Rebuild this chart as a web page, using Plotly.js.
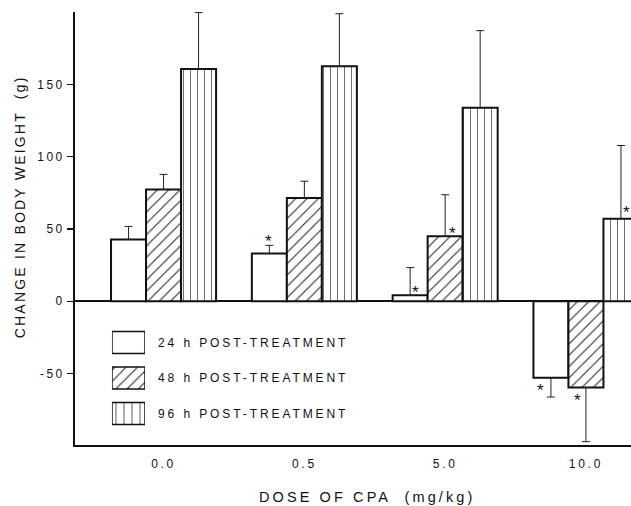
<!DOCTYPE html>
<html>
<head>
<meta charset="utf-8">
<script src="https://cdn.plot.ly/plotly-3.0.1.min.js"></script>
<style>
  html, body { margin: 0; padding: 0; background: #fff; }
  #chart { width: 631px; height: 506px; }
</style>
</head>
<body>
<div id="chart"></div>
<script>
// ---- data ----
const doses = ['0.0', '0.5', '5.0', '10.0'];
const seriesNames = ['24 h POST-TREATMENT', '48 h POST-TREATMENT', '96 h POST-TREATMENT'];
const mean24 = [42.8, 33.0, 4.1, -53.0];
const err24  = [9.0, 5.7, 19.2, 13.3];
const mean48 = [77.4, 71.4, 44.9, -59.7];
const err48  = [10.4, 11.7, 28.8, 37.5];
const mean96 = [160.8, 162.6, 133.9, 57.1];
const err96  = [39.0, 36.4, 53.4, 50.7];
const sig24 = [false, true, true, true];
const sig48 = [false, false, true, true];
const sig96 = [false, false, false, true];
const yTicks = [-50, 0, 50, 100, 150];

// ---- styles ----
const FONT = '"Liberation Sans", Arial, Helvetica, sans-serif';
const INK = '#111';
const sp = (s, ls) => '<span style="letter-spacing:' + ls + 'px">' + s + '</span>';
const BARGAP = 0.254;
const W = (1 - BARGAP) / 3;

const means = [mean24, mean48, mean96];
const errs = [err24, err48, err96];
const sigs = [sig24, sig48, sig96];
const patterns = [
  {shape: '', fgcolor: INK, bgcolor: '#fff'},
  {shape: '/', fgcolor: '#222', bgcolor: '#fff', size: 8, solidity: 0.13},
  {shape: '|', fgcolor: '#555', bgcolor: '#fff', size: 7, solidity: 0.12}
];
// asterisk offsets (pixels) relative to each bar end: [dx, dy(down +)]
const starOffsets = [
  [null, [-1, -17], [5, -8], [-10, 8]],
  [null, null, [7, -8], [-8, 8]],
  [null, null, null, [6, -11]]
];

const traces = [];
means.forEach((m, k) => {
  const e = errs[k];
  traces.push({
    type: 'bar', name: seriesNames[k], x: doses, y: m,
    xaxis: 'x', yaxis: 'y', showlegend: false,
    marker: {color: '#fff', line: {color: INK, width: 2}, pattern: patterns[k]},
    error_y: {
      type: 'data', symmetric: false,
      array: m.map((v, i) => v >= 0 ? e[i] : 0),
      arrayminus: m.map((v, i) => v < 0 ? e[i] : 0),
      color: '#222', thickness: 1, width: 4
    },
    hoverinfo: 'x+y'
  });
});

// legend drawn as bars on a small inset axis pair
seriesNames.forEach((nm, k) => {
  traces.push({
    type: 'bar', orientation: 'h', x: [1], y: [nm], width: 0.62,
    xaxis: 'x2', yaxis: 'y2', showlegend: false, hoverinfo: 'skip',
    marker: {color: '#fff', line: {color: INK, width: 1.5},
      pattern: Object.assign({}, patterns[k], k === 2 ? {size: 8} : {})}
  });
});

const annotations = [];
sigs.forEach((s, k) => {
  s.forEach((flag, i) => {
    if (!flag) return;
    const off = starOffsets[k][i];
    annotations.push({
      xref: 'x', yref: 'y', x: i + (k - 1) * W, y: means[k][i],
      text: '*', showarrow: false, xanchor: 'center', yanchor: 'middle',
      xshift: off[0], yshift: -off[1] - 5,
      font: {family: FONT, size: 17, color: INK}
    });
  });
});
seriesNames.forEach((nm) => {
  annotations.push({
    xref: 'x2', yref: 'y2', x: 1, y: nm, xanchor: 'left', yanchor: 'middle',
    xshift: 11, text: sp(nm, 2.9), showarrow: false,
    font: {family: FONT, size: 12, color: INK}
  });
});
// axis titles
annotations.push({
  xref: 'paper', yref: 'paper', x: -0.1, y: 0.55, textangle: -90,
  text: sp('CHANGE IN BODY WEIGHT  (g)', 2.2), showarrow: false,
  xanchor: 'center', yanchor: 'middle',
  font: {family: FONT, size: 14, color: INK}
});
annotations.push({
  xref: 'paper', yref: 'paper', x: 0.525, y: -0.12,
  text: sp('DOSE OF CPA  (mg/kg)', 3.1), showarrow: false,
  xanchor: 'center', yanchor: 'middle',
  font: {family: FONT, size: 14.5, color: INK}
});

const layout = {
  width: 631, height: 506,
  margin: {l: 75, r: 0, t: 12, b: 61},
  paper_bgcolor: '#fff', plot_bgcolor: '#fff',
  barmode: 'group', bargap: BARGAP, bargroupgap: 0,
  showlegend: false,
  font: {family: FONT, color: INK},
  xaxis: {
    type: 'category', range: [-0.629, 3.32],
    showline: true, linecolor: INK, linewidth: 2,
    showgrid: false, zeroline: false, ticks: '',
    tickmode: 'array', tickvals: doses, ticktext: doses.map(d => sp(d, 2.7)),
    tickfont: {family: FONT, size: 12, color: INK},
    ticklabelstandoff: 7, fixedrange: true
  },
  yaxis: {
    range: [-99.5, 200.2],
    showline: true, linecolor: INK, linewidth: 2,
    showgrid: false, zeroline: true, zerolinecolor: INK, zerolinewidth: 2,
    ticks: 'outside', ticklen: 6, tickwidth: 1.3, tickcolor: INK,
    tickmode: 'array', tickvals: yTicks, ticktext: yTicks.map(v => sp(String(v), 2.4)),
    tickfont: {family: FONT, size: 12, color: INK}, fixedrange: true
  },
  xaxis2: {
    domain: [0.0665, 0.1259], range: [0, 1], anchor: 'y2',
    visible: false, fixedrange: true
  },
  yaxis2: {
    domain: [0.0317, 0.2775], anchor: 'x2', type: 'category',
    autorange: 'reversed', visible: false, fixedrange: true
  },
  annotations: annotations
};

Plotly.newPlot('chart', traces, layout, {displayModeBar: false, staticPlot: true});
</script>
</body>
</html>
